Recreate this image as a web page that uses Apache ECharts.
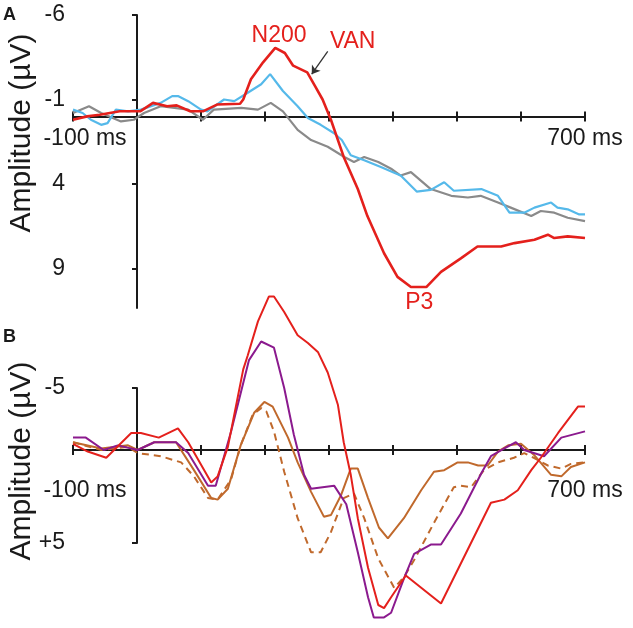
<!DOCTYPE html>
<html>
<head>
<meta charset="utf-8">
<script src="https://cdn.jsdelivr.net/npm/echarts@6/dist/echarts.min.js"></script>
<style>
  html, body { margin: 0; padding: 0; background: #fff; }
  #main { width: 633px; height: 628px; }
</style>
</head>
<body>
<div id="main"></div>
<script>
// panel A: [time (ms), amplitude (uV)]
var redA = [[-100,0.2],[-78,0.0],[-58,-0.1],[-27,-0.3],[5,-0.3],[25,-0.8],[47,-0.6],[62,-0.65],[83,-0.3],[103,-0.3],[125,-0.7],[161,-0.75],
    [166,-1.0],[178,-2.2],[197,-3.2],[216,-4.05],[231,-3.75],[244,-3.0],[266,-2.6],[278,-1.8],[290,-1.0],[303,0.2],[323,2.4],[345,4.3],
    [360,5.9],[386,8.1],[407,9.5],[428,10.1],[452,10.1],[475,9.2],[506,8.4],[532,7.7],[569,7.7],[590,7.5],[621,7.3],[642,7.0],
    [652,7.2],[673,7.1],[700,7.2]];
var blueA = [[-100,-0.4],[-85,-0.2],[-72,0.2],[-56,0.5],[-46,0.4],[-33,-0.4],[-14,-0.3],[6,-0.4],[37,-0.8],[55,-1.2],[64,-1.2],
    [80,-0.9],[100,-0.4],[110,-0.3],[136,-1.0],[152,-0.9],[173,-1.4],[194,-1.9],[208,-2.5],[228,-1.5],[251,-0.6],[267,0.1],
    [287,0.5],[308,1.0],[320,1.4],[334,2.3],[355,2.6],[381,3.0],[400,3.3],[412,3.5],[437,4.45],[459,4.35],[480,3.9],[495,4.4],
    [538,4.3],[564,4.7],[582,5.7],[605,5.7],[621,5.4],[647,5.1],[657,5.4],[673,5.5],[691,5.8],[700,5.8]];
var grayA = [[-100,-0.2],[-75,-0.6],[-56,-0.2],[-25,0.3],[-5,0.2],[11,-0.2],[37,-0.6],[80,-0.4],[103,0.2],[120,-0.4],[163,-0.5],
    [189,-0.4],[209,-0.8],[228,-0.3],[251,0.8],[272,1.4],[298,1.8],[324,2.4],[339,2.7],[355,2.4],[377,2.7],[397,3.1],[412,3.5],
    [428,3.3],[459,4.3],[491,4.7],[517,4.8],[537,4.7],[564,5.1],[584,5.4],[616,5.9],[631,5.6],[652,5.7],[673,6.0],[700,6.2]];

// panel B
var redB = [[-100,-1.4],[-77,-0.9],[-48,-0.5],[-9,-2.1],[6,-2.1],[34,-1.8],[64,-2.4],[80,-1.5],[116,1.1],[126,0.7],[142,-1.2],
    [166,-6.2],[173,-7.1],[189,-9.3],[206,-10.9],[214,-10.9],[230,-9.9],[251,-8.4],[267,-7.9],[283,-7.3],[298,-6.0],[314,-3.9],
    [323,-1.5],[334,0.6],[345,3.4],[361,6.6],[377,9.0],[386,9.2],[397,8.5],[420,7.1],[475,8.9],[553,2.4],[574,2.2],[595,1.6],
    [616,0.3],[631,-0.5],[658,-2.1],[689,-3.8],[700,-3.8]];
var purpleB = [[-100,-1.8],[-80,-1.8],[-52,-1.0],[-30,-1.3],[1,-1.0],[27,-1.5],[61,-1.5],[80,-0.8],[111,1.3],[123,1.3],[147,-2.2],
    [175,-6.8],[194,-8.0],[214,-7.6],[230,-5.0],[245,-2.0],[261,0.6],[272,1.5],[308,1.3],[327,2.5],[345,5.6],[361,8.5],[370,9.8],
    [386,9.8],[397,9.5],[417,7.3],[433,5.7],[459,5.1],[475,5.1],[506,3.1],[538,0.5],[553,-0.6],[574,-1.1],[592,-1.5],[605,-1.0],
    [636,-0.6],[663,-1.8],[700,-2.2]];
var orangeB = [[-100,-1.5],[-56,-1.1],[-14,-1.3],[1,-1.0],[27,-1.5],[61,-1.5],[89,0.3],[116,2.1],[126,2.2],[142,1.5],[162,-1.3],
    [183,-3.4],[199,-4.1],[212,-3.8],[236,-1.8],[251,-0.2],[272,1.7],[292,3.3],[303,3.2],[319,1.9],[334,0.2],[345,0.2],[361,2.1],
    [378,4.0],[392,4.7],[417,3.4],[444,1.6],[464,0.4],[480,0.3],[501,-0.2],[517,-0.2],[533,0.0],[548,0.0],[564,-0.9],[580,-1.3],
    [600,-1.4],[620,-0.7],[647,0.6],[663,0.7],[678,0.1],[700,-0.2]];
var dashedB = [[-100,-1.5],[-56,-1.0],[-14,-1.2],[1,-0.8],[37,-0.6],[69,-0.2],[89,0.7],[111,2.1],[126,2.2],[147,0.9],[162,-1.3],
    [181,-3.3],[194,-3.7],[202,-3.5],[214,-2.2],[230,0.4],[251,3.4],[272,5.6],[287,5.6],[303,4.3],[323,2.1],[339,1.8],[355,3.4],
    [377,6.0],[402,7.9],[417,7.2],[433,6.1],[464,3.7],[495,1.4],[506,1.3],[522,1.4],[542,0.3],[564,-0.2],[589,-0.5],[605,-0.8],
    [620,-0.5],[642,0.0],[663,0.2],[678,-0.1],[700,-0.2]];

var timeTicks = [-100, 0, 100, 200, 300, 400, 500, 600, 700];
var timeLabels = [-100, 700];
var ampTicksA = [-6, -1, 4, 9];
var ampTicksB = [-5, 5];

var font = 'Liberation Sans, Arial, sans-serif';
var ink = '#1a1a1a';

// time axis drawn along the bottom of a thin helper grid;
// up = second copy that draws the upper half of the crossing ticks
function timeAxis(grid, up, labelMargin) {
    return {
        type: 'value', gridIndex: grid, min: -100, max: 700, position: 'bottom',
        axisLine: { show: !up, onZero: false, lineStyle: { color: ink, width: 2 } },
        axisTick: { show: true, inside: up, length: 5, customValues: timeTicks, lineStyle: { color: ink, width: 2 } },
        axisLabel: {
            show: !up, customValues: timeLabels, margin: labelMargin,
            color: ink, fontSize: 23, fontFamily: font,
            formatter: function (v) { return v === -100 ? '{p|-100 ms}' : v + ' ms'; },
            rich: { p: { padding: [0, 0, 0, 24], color: ink, fontSize: 23, fontFamily: font } }
        },
        splitLine: { show: false }
    };
}

function line(name, data, color, width, xi, yi, dashed) {
    return {
        name: name, type: 'line', data: data, xAxisIndex: xi, yAxisIndex: yi,
        showSymbol: false, symbol: 'none', clip: false, silent: true,
        lineStyle: { color: color, width: width, type: dashed ? [7, 5] : 'solid' }
    };
}

var myChart = echarts.init(document.getElementById('main'));

var red = line('Red A', redA, '#e4201c', 2.6, 0, 0);
red.markPoint = {
    symbol: 'rect', symbolSize: 1, itemStyle: { color: 'transparent' },
    label: { show: true, position: 'inside', formatter: '{b}', color: '#e4201c', fontSize: 23, fontFamily: font },
    data: [
        { name: 'N200', coord: [222, -4.8] },
        { name: 'VAN', coord: [337, -4.4] },
        { name: 'P3', coord: [441, 11.0] }
    ]
};
red.markLine = {
    silent: true, symbol: ['none', 'arrow'], symbolSize: 8,
    label: { show: false },
    lineStyle: { color: '#333', width: 1.3, type: 'solid' },
    data: [[{ coord: [298, -3.85] }, { coord: [273, -2.5] }]]
};

var option = {
    animation: false,
    backgroundColor: '#fff',
    grid: [
        { left: 73, right: 48, top: 15, height: 293 },     // A curves
        { left: 73, right: 48, top: 388, height: 155 },    // B curves
        { left: 73, right: 48, top: 388, height: 62 },     // B time axis (baseline)
        { left: 73, right: 48, top: 15, height: 101.4 }    // A time axis (zero)
    ],
    xAxis: [
        { type: 'value', gridIndex: 0, min: -100, max: 700, show: false },
        { type: 'value', gridIndex: 1, min: -100, max: 700, show: false },
        timeAxis(2, false, 29),
        timeAxis(2, true, 29),
        timeAxis(3, false, 11),
        timeAxis(3, true, 11)
    ],
    yAxis: [
        {
            type: 'value', gridIndex: 0, inverse: true, min: -6, max: 11.34,
            axisLine: { onZero: true, lineStyle: { color: ink, width: 2 } },
            axisTick: { customValues: ampTicksA, length: 5, lineStyle: { color: ink, width: 2 } },
            axisLabel: { customValues: ampTicksA, margin: 8, color: ink, fontSize: 23, fontFamily: font },
            splitLine: { show: false }
        },
        {
            type: 'value', gridIndex: 1, inverse: true, min: -5, max: 5,
            axisLine: { onZero: true, lineStyle: { color: ink, width: 2 } },
            axisTick: { customValues: ampTicksB, length: 5, lineStyle: { color: ink, width: 2 } },
            axisLabel: {
                customValues: ampTicksB, margin: 8, color: ink, fontSize: 23, fontFamily: font,
                formatter: function (v) { return v > 0 ? '+' + v : String(v); }
            },
            splitLine: { show: false }
        },
        { type: 'value', gridIndex: 2, min: 0, max: 1, show: false },
        { type: 'value', gridIndex: 3, min: 0, max: 1, show: false }
    ],
    graphic: [
        { type: 'text', left: 3, top: 6, style: { text: 'A', font: 'bold 18px ' + font, fill: ink } },
        { type: 'text', left: 3, top: 328, style: { text: 'B', font: 'bold 18px ' + font, fill: ink } },
        { type: 'text', x: 22, y: 133, rotation: Math.PI / 2,
          style: { text: 'Amplitude (µV)', font: '30px ' + font, fill: ink, align: 'center', verticalAlign: 'middle' } },
        { type: 'text', x: 22, y: 461, rotation: Math.PI / 2,
          style: { text: 'Amplitude (µV)', font: '30px ' + font, fill: ink, align: 'center', verticalAlign: 'middle' } }
    ],
    series: [
        line('Gray A', grayA, '#8a8a8a', 2.2, 0, 0),
        line('Blue A', blueA, '#55b9ea', 2.2, 0, 0),
        red,
        line('Dashed B', dashedB, '#c0692c', 2, 1, 1, true),
        line('Orange B', orangeB, '#c0692c', 2, 1, 1),
        line('Purple B', purpleB, '#8b1a8e', 2, 1, 1),
        line('Red B', redB, '#e4201c', 2, 1, 1)
    ]
};

myChart.setOption(option);
</script>
</body>
</html>
